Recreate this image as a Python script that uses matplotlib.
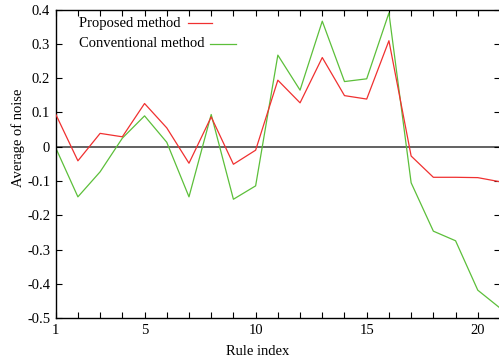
import matplotlib
matplotlib.use("Agg")
import matplotlib.pyplot as plt
from matplotlib.lines import Line2D
from matplotlib.ticker import FuncFormatter, MultipleLocator

# --- Data ---
rule_index = list(range(1, 22))
proposed = [0.095, -0.041, 0.039, 0.029, 0.126, 0.055, -0.048, 0.087, -0.051, -0.010,
            0.194, 0.128, 0.260, 0.149, 0.139, 0.309, -0.027, -0.089, -0.089, -0.090,
            -0.102]
conventional = [-0.003, -0.146, -0.073, 0.025, 0.090, 0.013, -0.146, 0.094, -0.153, -0.114,
                0.267, 0.165, 0.366, 0.190, 0.198, 0.390, -0.105, -0.246, -0.274, -0.418,
                -0.470]
labels = ["Proposed method", "Conventional method"]

RED = "#f03030"
GREEN = "#5cbf3a"

plt.rcParams["font.family"] = ["Liberation Serif", "DejaVu Serif"]
plt.rcParams["axes.unicode_minus"] = False
FS = 10.5

fig = plt.figure(figsize=(4.99, 3.6), dpi=100)
ax = fig.add_axes([0.1116, 0.1158, 0.8904, 0.8578])

ax.axhline(0, color="#555555", lw=1.3, zorder=1)
ax.plot(rule_index, proposed, color=RED, lw=0.9, zorder=3)
ax.plot(rule_index, conventional, color=GREEN, lw=0.9, zorder=2)

ax.set_xlim(1, 21)
ax.set_ylim(-0.5, 0.4)
ax.set_xticks([1, 5, 10, 15, 20])
ax.xaxis.set_minor_locator(MultipleLocator(1))
ax.yaxis.set_major_locator(MultipleLocator(0.1))
ax.yaxis.set_major_formatter(FuncFormatter(lambda v, p: "%g" % round(v, 2)))
ax.tick_params(which="both", direction="in", top=True, right=True,
               labelsize=FS, length=4, width=0.8, pad=4)

for s in ax.spines.values():
    s.set_linewidth(1.0)

ax.set_xlabel("Rule index", fontsize=FS)
ax.set_ylabel("Average of noise", fontsize=FS)
# gnuplot put the labels a bit off-centre
ax.xaxis.set_label_coords(0.454, -0.088)
ax.yaxis.set_label_coords(-0.070, 0.585)

# gnuplot-style key: text then line sample
key_y = [0.955, 0.889]
key_line = [(0.298, 0.352), (0.347, 0.405)]
for lab, col, yy, (x0, x1) in zip(labels, [RED, GREEN], key_y, key_line):
    ax.text(0.052, yy, lab, transform=ax.transAxes, fontsize=FS,
            ha="left", va="center")
    ax.add_line(Line2D([x0, x1], [yy, yy], transform=ax.transAxes,
                       color=col, lw=0.9))

fig.savefig("out.png", dpi=100)
